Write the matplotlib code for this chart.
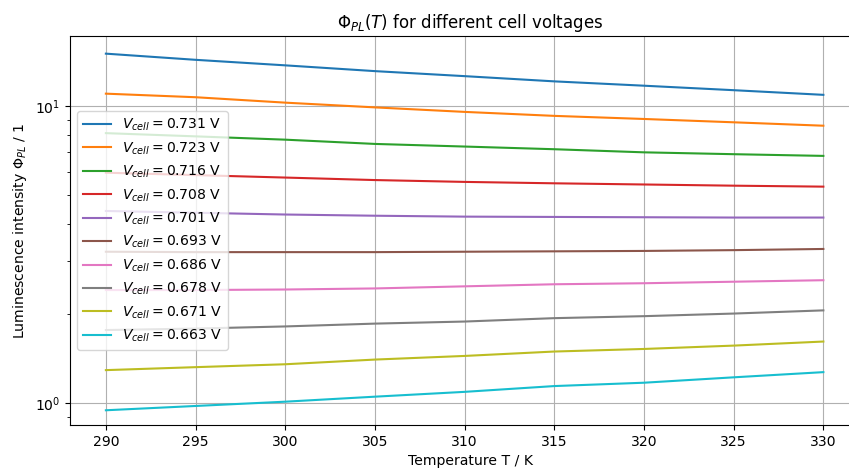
import matplotlib
matplotlib.use("Agg")
import matplotlib.pyplot as plt

temperature = [290, 295, 300, 305, 310, 315, 320, 325, 330]

voltages = ["0.731", "0.723", "0.716", "0.708", "0.701",
            "0.693", "0.686", "0.678", "0.671", "0.663"]

phi_0731 = [15.0, 14.3, 13.7, 13.1, 12.6, 12.1, 11.7, 11.3, 10.9]
phi_0723 = [11.0, 10.7, 10.26, 9.89, 9.55, 9.26, 9.04, 8.81, 8.58]
phi_0716 = [8.1, 7.9, 7.70, 7.45, 7.30, 7.15, 6.98, 6.88, 6.79]
phi_0708 = [5.96, 5.85, 5.74, 5.63, 5.55, 5.49, 5.44, 5.39, 5.35]
phi_0701 = [4.43, 4.37, 4.31, 4.27, 4.24, 4.23, 4.22, 4.21, 4.21]
phi_0693 = [3.23, 3.22, 3.22, 3.22, 3.23, 3.24, 3.25, 3.27, 3.30]
phi_0686 = [2.40, 2.40, 2.41, 2.43, 2.47, 2.51, 2.53, 2.56, 2.59]
phi_0678 = [1.76, 1.78, 1.81, 1.85, 1.88, 1.93, 1.96, 2.00, 2.05]
phi_0671 = [1.29, 1.32, 1.35, 1.40, 1.44, 1.49, 1.52, 1.56, 1.61]
phi_0663 = [0.945, 0.977, 1.01, 1.05, 1.09, 1.14, 1.17, 1.22, 1.27]

series = [phi_0731, phi_0723, phi_0716, phi_0708, phi_0701,
          phi_0693, phi_0686, phi_0678, phi_0671, phi_0663]

plt.rcParams["font.size"] = 10.1

fig = plt.figure(figsize=(8.49, 4.71), dpi=100)
# the picture is cropped on the right, so the axes run past the figure edge
ax = fig.add_axes([70 / 849, 46 / 471, 800 / 849, 389 / 471])

for v, phi in zip(voltages, series):
    ax.plot(temperature, phi, label=rf"$V_{{cell}} = {v}$ V")

ax.set_yscale("log")
ax.set_xlim(288, 332.6)
ax.set_ylim(0.843, 17.2)
ax.grid(True)
ax.set_title(r"$\Phi_{PL}(T)$ for different cell voltages", fontsize=12)
ax.set_xlabel("Temperature T / K")
ax.set_ylabel(r"Luminescence intensity $\Phi_{PL}$ / 1")
ax.legend(loc="center left")

fig.savefig("out.png", dpi=100)
